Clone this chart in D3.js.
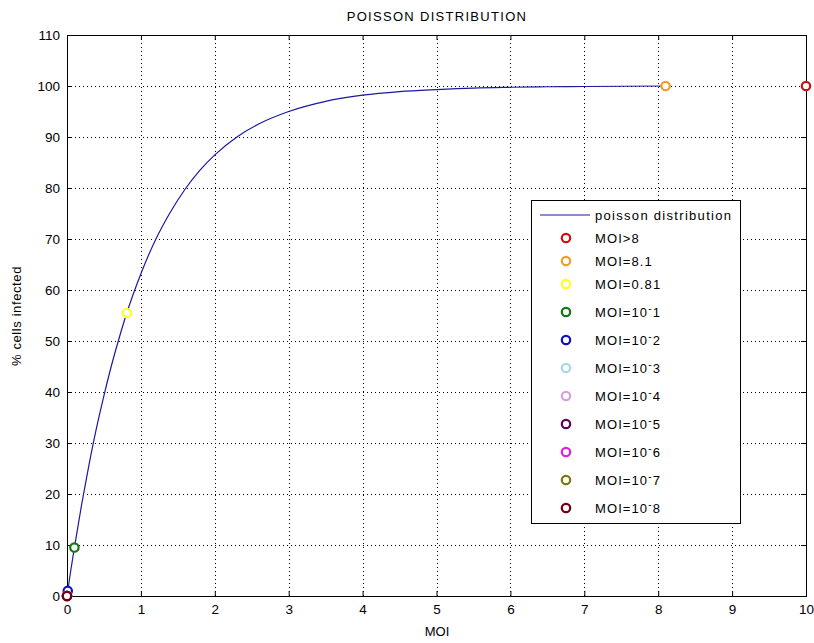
<!DOCTYPE html>
<html>
<head>
<meta charset="utf-8">
<script src="https://cdn.jsdelivr.net/npm/d3@7"></script>
<style>
  body { margin: 0; background: #fff; }
  text { font-family: "Liberation Sans", Arial, sans-serif; fill: #000; }
</style>
</head>
<body>
<svg id="canvas"></svg>
<script>
// ########## Data ##########

// poisson curve (MOI, % infected)
curveMOI = [0, 0.05, 0.1, 0.2, 0.3, 0.4, 0.5, 0.6, 0.7, 0.8, 1.0, 1.2, 1.4, 1.6, 1.8, 2.0, 2.3, 2.6, 3.0, 3.5, 4.0, 4.5, 5.0, 5.5, 6.0, 6.5, 7.0, 8.1];
curvePct = [0, 4.9, 9.5, 18.1, 25.9, 33.0, 39.3, 45.1, 50.3, 55.1, 63.2, 69.9, 75.3, 79.8, 83.5, 86.5, 90.0, 92.6, 95.0, 97.0, 98.2, 98.9, 99.3, 99.6, 99.75, 99.85, 99.9, 100];

// points
pointLabels = ["MOI>8", "MOI=8.1", "MOI=0.81", "MOI=10^-1", "MOI=10^-2", "MOI=10^-3", "MOI=10^-4", "MOI=10^-5", "MOI=10^-6", "MOI=10^-7", "MOI=10^-8"];
pointMOI = [10, 8.1, 0.81, 0.1, 0.01, 0.001, 0.0001, 0.00001, 0.000001, 0.0000001, 0.00000001];
pointPct = [100, 100, 55.5, 9.5, 1.0, 0.1, 0.01, 0.001, 0.0001, 0.00001, 0.000001];
pointColors = ["#d01010", "#f0a020", "#ffff20", "#107a10", "#1010c0", "#a8d8e8", "#d8a0d8", "#600060", "#e020e0", "#7a7a10", "#700010"];

xTicks = [0, 1, 2, 3, 4, 5, 6, 7, 8, 9, 10];
yTicks = [0, 10, 20, 30, 40, 50, 60, 70, 80, 90, 100, 110];

w = 814;
h = 643;

// ########## SVG ##########
svg = d3.select("#canvas")
    .attr("width", w)
    .attr("height", h);

x = d3.scaleLinear().domain([0, 10]).range([67, 806]);
y = d3.scaleLinear().domain([0, 110]).range([596, 35]);

// ########## Grid ##########
grid = svg.append("g")
    .attr("stroke", "#000")
    .attr("stroke-width", 1)
    .attr("stroke-dasharray", "1,3");

grid.selectAll(".gx")
    .data(xTicks.slice(1, -1))
    .enter().append("line")
    .attr("x1", function (d) { return Math.round(x(d)) + 0.5; })
    .attr("x2", function (d) { return Math.round(x(d)) + 0.5; })
    .attr("y1", y(110))
    .attr("y2", y(0));

grid.selectAll(".gy")
    .data(yTicks.slice(1, -1))
    .enter().append("line")
    .attr("y1", function (d) { return Math.round(y(d)) + 0.5; })
    .attr("y2", function (d) { return Math.round(y(d)) + 0.5; })
    .attr("x1", x(0))
    .attr("x2", x(10));

// ########## Axes ##########
xAxis = svg.append("g")
    .attr("transform", "translate(0," + y(0) + ")")
    .call(d3.axisBottom(x).tickValues(xTicks).tickSizeInner(-5).tickSizeOuter(0).tickPadding(8));
xAxisTop = svg.append("g")
    .attr("transform", "translate(0," + y(110) + ")")
    .call(d3.axisTop(x).tickValues(xTicks).tickSizeInner(-5).tickSizeOuter(0).tickFormat(""));
yAxis = svg.append("g")
    .attr("transform", "translate(" + x(0) + ",0)")
    .call(d3.axisLeft(y).tickValues(yTicks).tickSizeInner(-5).tickSizeOuter(0).tickPadding(7));
yAxisRight = svg.append("g")
    .attr("transform", "translate(" + x(10) + ",0)")
    .call(d3.axisRight(y).tickValues(yTicks).tickSizeInner(-5).tickSizeOuter(0).tickFormat(""));

svg.selectAll(".domain").remove();
svg.selectAll(".tick text")
    .attr("font-family", "Liberation Sans, Arial, sans-serif")
    .attr("font-size", 13.5);

// box
svg.append("rect")
    .attr("x", x(0) + 0.5)
    .attr("y", y(110) + 0.5)
    .attr("width", x(10) - x(0))
    .attr("height", y(0) - y(110))
    .attr("fill", "none")
    .attr("stroke", "#000");

// ########## Curve ##########
line = d3.line()
    .x(function (d, i) { return x(curveMOI[i]); })
    .y(function (d) { return y(d); })
    .curve(d3.curveMonotoneX);

svg.append("path")
    .datum(curvePct)
    .attr("d", line)
    .attr("fill", "none")
    .attr("stroke", "#1a1aa0")
    .attr("stroke-width", 1.2);

// ########## Points ##########
svg.selectAll(".pt")
    .data(pointMOI)
    .enter().append("circle")
    .attr("cx", function (d) { return x(d); })
    .attr("cy", function (d, i) { return y(pointPct[i]); })
    .attr("r", 4.2)
    .attr("fill", "#fff")
    .attr("stroke", function (d, i) { return pointColors[i]; })
    .attr("stroke-width", 2.2);

// ########## Titles ##########
svg.append("text")
    .attr("x", 437)
    .attr("y", 21)
    .attr("text-anchor", "middle")
    .attr("font-size", 13)
    .attr("letter-spacing", 1.3)
    .text("POISSON DISTRIBUTION");

svg.append("text")
    .attr("x", 437)
    .attr("y", 636)
    .attr("text-anchor", "middle")
    .attr("font-size", 13)
    .text("MOI");

svg.append("text")
    .attr("transform", "translate(21,316) rotate(-90)")
    .attr("text-anchor", "middle")
    .attr("font-size", 13)
    .attr("letter-spacing", 0.6)
    .text("% cells infected");

// ########## Legend ##########
legend = svg.append("g");

legend.append("rect")
    .attr("x", 531.5)
    .attr("y", 200.5)
    .attr("width", 209)
    .attr("height", 323)
    .attr("fill", "#fff")
    .attr("stroke", "#000");

legend.append("line")
    .attr("x1", 540).attr("x2", 590)
    .attr("y1", 215).attr("y2", 215)
    .attr("stroke", "#1a1aa0")
    .attr("stroke-width", 1.2);

legend.append("text")
    .attr("x", 595)
    .attr("y", 219.5)
    .attr("font-size", 13)
    .attr("letter-spacing", 1.3)
    .text("poisson distribution");

rowY = [];
cy = 215;
for (var i = 0; i < pointLabels.length; i++) {
    cy += pointLabels[i].indexOf("^") >= 0 ? 28 : 23;
    rowY.push(cy);
}

rows = legend.selectAll(".row")
    .data(pointLabels)
    .enter().append("g")
    .attr("transform", function (d, i) { return "translate(0," + rowY[i] + ")"; });

rows.append("circle")
    .attr("cx", 566)
    .attr("cy", 0)
    .attr("r", 4.2)
    .attr("fill", "#fff")
    .attr("stroke", function (d, i) { return pointColors[i]; })
    .attr("stroke-width", 2.2);

rows.each(function (d) {
    var t = d3.select(this).append("text")
        .attr("x", 595)
        .attr("y", 4.5)
        .attr("font-size", 13)
        .attr("letter-spacing", 1.1);
    var parts = d.split("^");
    t.append("tspan").text(parts[0]);
    if (parts.length > 1) {
        t.append("tspan").attr("dy", -5).attr("font-size", 10).text(parts[1].charAt(0));
        t.append("tspan").attr("dy", 5).text(parts[1].slice(1));
    }
});
</script>
</body>
</html>
